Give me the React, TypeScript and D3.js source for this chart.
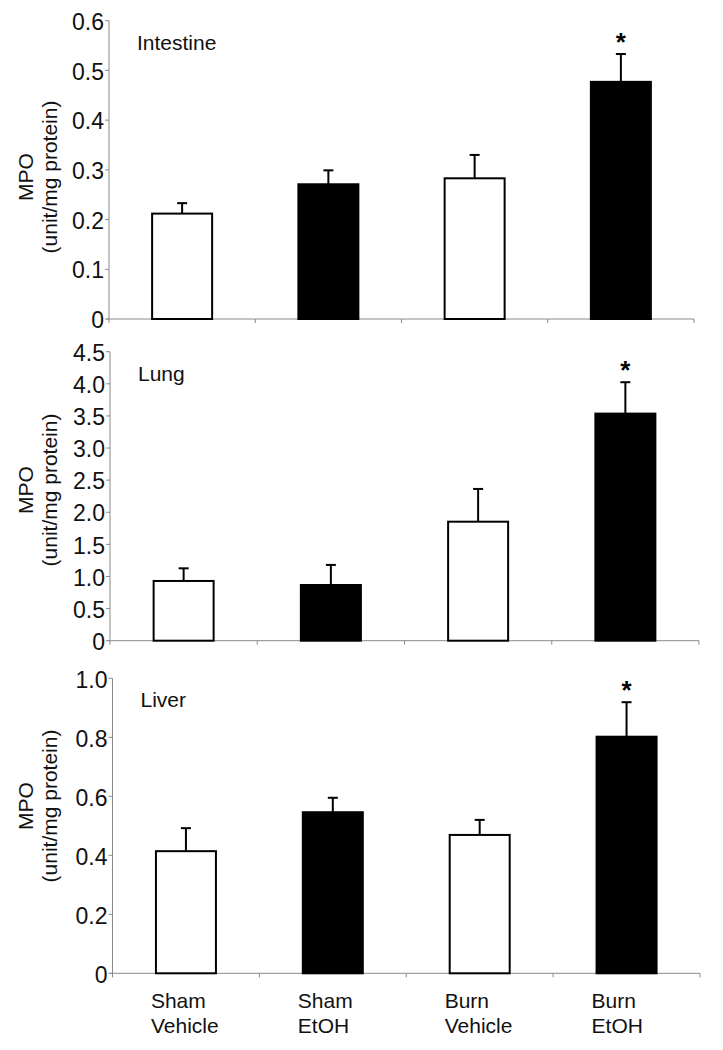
import React from "react";
import * as d3 from "d3";

const categories = [
  ["Sham", "Vehicle"],
  ["Sham", "EtOH"],
  ["Burn", "Vehicle"],
  ["Burn", "EtOH"],
];
const barFills = ["white", "black", "white", "black"];
const significant = [false, false, false, true];

const intestineMeans = [0.212, 0.271, 0.283, 0.477];
const intestineErr = [0.021, 0.028, 0.047, 0.056];
const intestineTicks = [0, 0.1, 0.2, 0.3, 0.4, 0.5, 0.6];

const lungMeans = [0.93, 0.867, 1.853, 3.536];
const lungErr = [0.197, 0.313, 0.51, 0.489];
const lungTicks = [0, 0.5, 1.0, 1.5, 2.0, 2.5, 3.0, 3.5, 4.0, 4.5];

const liverMeans = [0.414, 0.546, 0.469, 0.802];
const liverErr = [0.078, 0.049, 0.051, 0.117];
const liverTicks = [0, 0.2, 0.4, 0.6, 0.8, 1.0];

const FONT = "'Liberation Sans', Arial, Helvetica, sans-serif";
const AXIS = "#8a8a8a";

type PanelProps = {
  title: string;
  means: number[];
  errs: number[];
  ticks: number[];
  yTop: number;
  yBottom: number;
  xLeft: number;
  xRight: number;
  labelCenterY: number;
  showCategories: boolean;
  fmt: (v: number) => string;
};

function Panel(p: PanelProps) {
  const max = p.ticks[p.ticks.length - 1];
  const y = d3.scaleLinear().domain([0, max]).range([p.yBottom, p.yTop]);
  const padInner = 1 - 60 / ((p.xRight - p.xLeft) / 4);
  const x = d3
    .scaleBand<number>()
    .domain(d3.range(categories.length))
    .range([p.xLeft, p.xRight])
    .paddingInner(padInner)
    .paddingOuter(padInner / 2);
  const step = x.step();
  const bw = x.bandwidth();
  const boundaries = d3.range(categories.length + 1).map((i) => p.xLeft + i * step);
  return (
    <g>
      {/* y axis */}
      <line x1={p.xLeft} x2={p.xLeft} y1={p.yTop} y2={p.yBottom} stroke={AXIS} strokeWidth={1} />
      {p.ticks.map((t) => (
        <g key={t}>
          <line x1={p.xLeft - 4} x2={p.xLeft} y1={y(t)} y2={y(t)} stroke={AXIS} strokeWidth={1} />
          <text
            x={p.xLeft - 5}
            y={y(t)}
            dy="0.4em"
            textAnchor="end"
            fontFamily={FONT}
            fontSize={23}
            fill="#111"
          >
            {p.fmt(t)}
          </text>
        </g>
      ))}
      {/* x axis */}
      <line x1={p.xLeft - 2} x2={p.xRight} y1={p.yBottom} y2={p.yBottom} stroke={AXIS} strokeWidth={1} />
      {boundaries.map((bx, i) => (
        <line key={i} x1={bx} x2={bx} y1={p.yBottom} y2={p.yBottom + 4} stroke={AXIS} strokeWidth={1} />
      ))}
      {/* bars */}
      {p.means.map((m, i) => {
        const bx = x(i)!;
        const cx = bx + bw / 2;
        const top = y(m);
        const errTop = y(m + p.errs[i]);
        return (
          <g key={i}>
            <line x1={cx} x2={cx} y1={top} y2={errTop} stroke="black" strokeWidth={2} />
            <line x1={cx - 5} x2={cx + 5} y1={errTop} y2={errTop} stroke="black" strokeWidth={2} />
            <rect
              x={bx}
              y={top}
              width={bw}
              height={p.yBottom - top}
              fill={barFills[i]}
              stroke="black"
              strokeWidth={2}
            />
            {significant[i] && (
              <text
                x={cx}
                y={errTop - 18 + 15}
                textAnchor="middle"
                fontFamily={FONT}
                fontSize={26}
                fontWeight="bold"
                fill="black"
              >
                *
              </text>
            )}
          </g>
        );
      })}
      {/* title */}
      <text x={p.xLeft + 28} y={p.yTop + 29} fontFamily={FONT} fontSize={21} fill="#111">
        {p.title}
      </text>
      {/* y label */}
      <g transform={`translate(33, ${p.labelCenterY}) rotate(-90)`}>
        <text x={0} y={0} textAnchor="middle" fontFamily={FONT} fontSize={21} fill="#111">
          MPO
        </text>
      </g>
      <g transform={`translate(57, ${p.labelCenterY}) rotate(-90)`}>
        <text x={0} y={0} textAnchor="middle" fontFamily={FONT} fontSize={21} fill="#111">
          (unit/mg protein)
        </text>
      </g>
      {p.showCategories &&
        categories.map((lines, i) => {
          const cx = x(i)! + bw / 2;
          return (
            <text key={i} fontFamily={FONT} fontSize={21} fill="#111">
              {lines.map((ln, j) => (
                <tspan key={j} x={cx - 35} y={p.yBottom + 35 + j * 25}>
                  {ln}
                </tspan>
              ))}
            </text>
          );
        })}
    </g>
  );
}

const fmtIntestine = (v: number) => (v === 0 ? "0" : d3.format(".1f")(v));
const fmtOne = (v: number) => (v === 0 ? "0" : d3.format(".1f")(v));

export default function App() {
  return (
    <div style={{ position: "absolute", left: 0, top: 0 }}>
      <svg width={723} height={1050} style={{ display: "block", background: "white" }}>
        <rect x={0} y={0} width={723} height={1050} fill="white" />
        <Panel
          title="Intestine"
          means={intestineMeans}
          errs={intestineErr}
          ticks={intestineTicks}
          yTop={20.7}
          yBottom={319}
          xLeft={109}
          xRight={694}
          labelCenterY={177}
          showCategories={false}
          fmt={fmtIntestine}
        />
        <Panel
          title="Lung"
          means={lungMeans}
          errs={lungErr}
          ticks={lungTicks}
          yTop={351.7}
          yBottom={640.7}
          xLeft={110}
          xRight={699}
          labelCenterY={490}
          showCategories={false}
          fmt={fmtOne}
        />
        <Panel
          title="Liver"
          means={liverMeans}
          errs={liverErr}
          ticks={liverTicks}
          yTop={678.3}
          yBottom={973.3}
          xLeft={112.5}
          xRight={700}
          labelCenterY={806}
          showCategories={true}
          fmt={fmtOne}
        />
      </svg>
    </div>
  );
}
